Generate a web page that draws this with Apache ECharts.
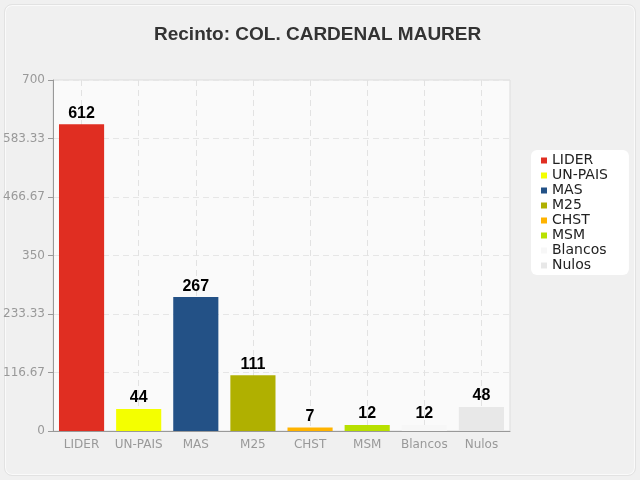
<!DOCTYPE html>
<html><head><meta charset="utf-8">
<script src="https://cdn.jsdelivr.net/npm/echarts@6/dist/echarts.min.js"></script>
<style>
html,body{margin:0;padding:0;background:#f0f0f0;}
#wrap{position:absolute;left:4px;top:4px;width:630px;height:470px;border:1px solid #e2e2e2;border-radius:8px;background:#f0f0f0;box-shadow:0 0 0 1px #fafafa inset;}
#c{position:absolute;left:-5px;top:-5px;width:640px;height:480px;}
</style></head>
<body><div id="wrap"><div id="c"></div></div>
<script>
const categories = ["LIDER","UN-PAIS","MAS","M25","CHST","MSM","Blancos","Nulos"];
const values = [612,44,267,111,7,12,12,48];
const colors = ["#e02e22","#f4ff00","#235186","#b0b000","#ffb300","#b8e000","#f7f7f7","#e8e8e8"];
const yTicks = [0,116.67,233.33,350,466.67,583.33,700];

const chart = echarts.init(document.getElementById('c'));
chart.setOption({
  backgroundColor: 'transparent',
  title: {text: 'Recinto: COL. CARDENAL MAURER', left: 149, top: 20,
    textStyle: {fontFamily: 'Liberation Sans, Arial', fontSize: 19, fontWeight: 'bold', color: '#333'}},
  legend: {
    orient: 'vertical', left: 531, top: 150,
    data: categories, backgroundColor: '#fff', borderRadius: 6,
    padding: [3, 21, 2, 10],
    itemWidth: 6, itemHeight: 6, itemGap: 0, icon: 'rect',
    textStyle: {fontFamily: 'DejaVu Sans, Verdana', fontSize: 14, lineHeight: 15, color: '#222', padding: [0,0,0,0]}
  },
  grid: {left: 51, right: 130, top: 80, bottom: 49, show: true, backgroundColor: '#fafafa', borderColor: '#ddd', borderWidth: 1},
  xAxis: {
    type: 'category', data: categories,
    axisLine: {lineStyle: {color: '#999'}},
    axisTick: {alignWithLabel: true, interval: 0, length: 5, lineStyle: {color: '#999'}},
    axisLabel: {interval: 0, color: '#999', fontFamily: 'DejaVu Sans, Verdana', fontSize: 12, margin: 8},
    splitLine: {show: true, interval: 0, alignWithLabel: true, lineStyle: {type: [6,4], color: '#e2e2e2'}}
  },
  yAxis: {
    type: 'value', min: 0, max: 700, interval: 700/6,
    axisLine: {show: true, lineStyle: {color: '#999'}},
    axisTick: {show: true, length: 5, lineStyle: {color: '#999'}},
    axisLabel: {color: '#999', fontFamily: 'DejaVu Sans, Verdana', fontSize: 12, margin: 8,
      formatter: v => { let best = yTicks.reduce((a,b)=>Math.abs(b-v)<Math.abs(a-v)?b:a); return String(best); }},
    splitLine: {lineStyle: {type: [6,4], color: '#e6e6e6'}}
  },
  series: categories.map((c, i) => ({
    name: c, type: 'bar', stack: 'a',
    data: categories.map((_, j) => j === i ? values[i] : null),
    barWidth: '79%',
    itemStyle: {color: colors[i]},
    label: {show: true, position: 'top', color: '#000', fontWeight: 'bold', fontSize: 16,
      fontFamily: 'Liberation Sans, Arial', distance: 3,
      formatter: p => p.value == null ? '' : p.value}
  }))
});
</script></body></html>
